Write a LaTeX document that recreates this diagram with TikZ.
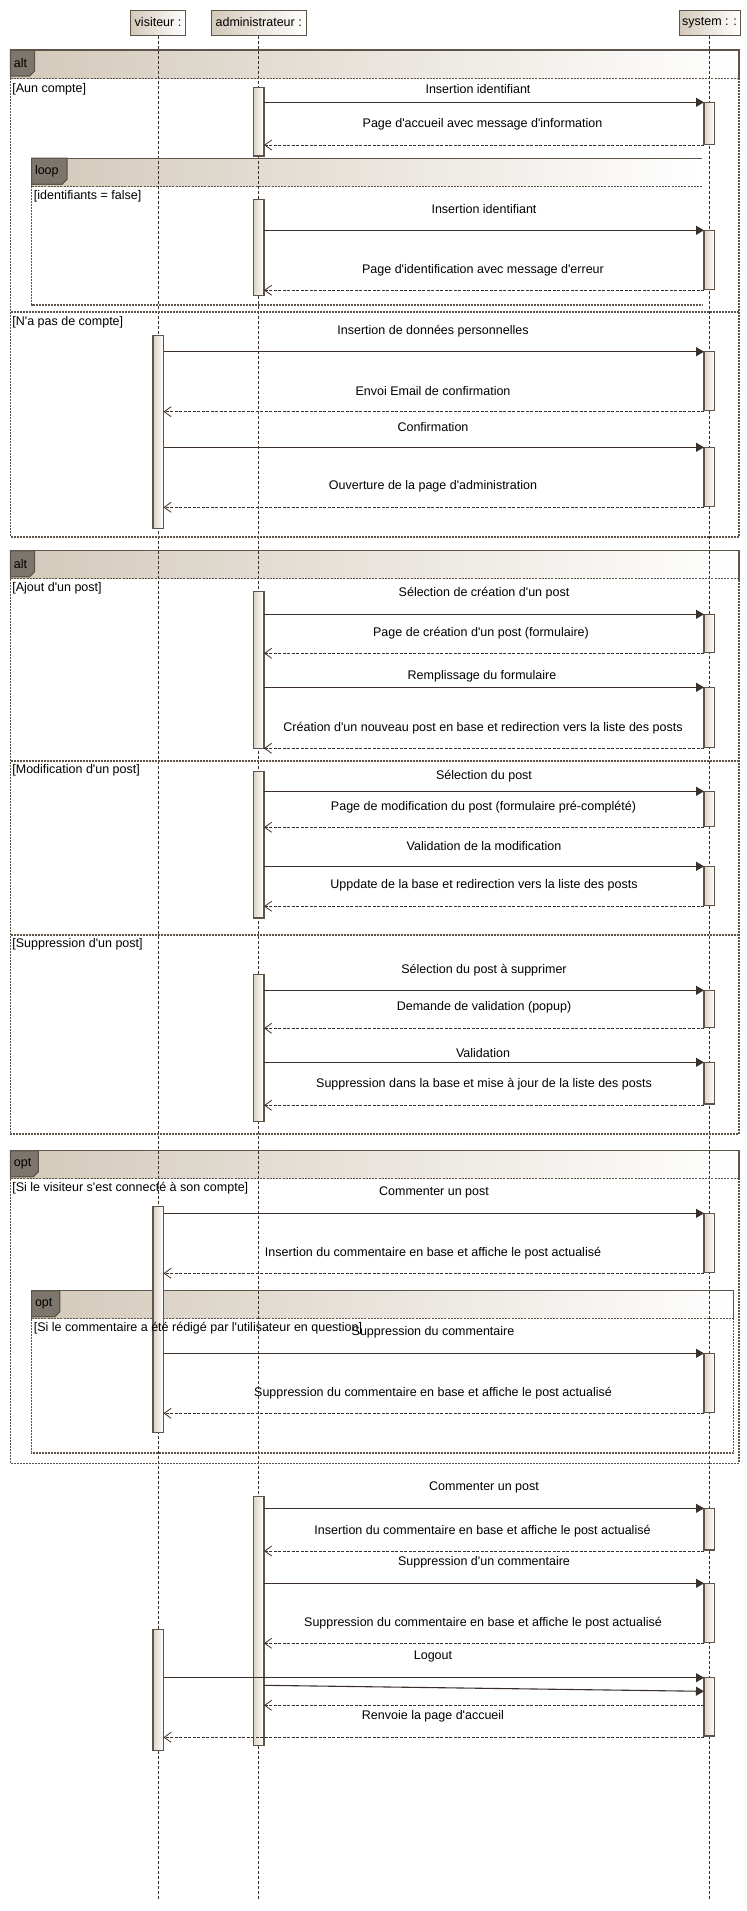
\documentclass[tikz,border=0pt]{standalone}
\usepackage{fontspec}
\setmainfont{Liberation Sans}[Ligatures=TeXOff]
\usetikzlibrary{arrows.meta}

\definecolor{umlborder}{HTML}{5E544A}
\definecolor{umlarrow}{HTML}{3B3029}
\definecolor{umltag}{HTML}{7D766C}
\definecolor{umltan}{HTML}{D3C9BA}
\definecolor{umlbar}{HTML}{DCD3C6}

\newcommand{\umlfont}{\fontsize{6.25}{7}\selectfont}

% message: name, style, x from, x to, y, label x, label y, label
\newcommand{\umlmsg}[8]{%
  \coordinate (#1-s) at (#3,#5);
  \coordinate (#1-e) at (#4,#5);
  \draw[#2] (#1-s) -- (#1-e);
  \node[msglabel] (#1-l) at (#6,#7) {#8};}

% frame head: name, x1, y1, x2, tag width, tag
\newcommand{\frameband}[6]{%
  \fill[left color=umltan, right color=white] (#2,#3) rectangle (#4,#3+28);
  \filldraw[tagbox] (#2,#3) -- (#2+#5,#3) -- (#2+#5,#3+21) -- (#2+#5-5,#3+26) -- (#2,#3+26) -- cycle;
  \node[anchor=west, inner sep=0] (#1) at (#2+3,#3+13) {#6};}

% frame border: x1, y1, x2, y2
\newcommand{\frameedges}[4]{%
  \draw[framesolid] (#1,#2+28) -- (#1,#2) -- (#3,#2) -- (#3,#2+28);
  \draw[framedash] (#1,#2+28) -- (#1,#4) -- (#3,#4) -- (#3,#2+28);
  \draw[bandline] (#1,#2+28) -- (#3,#2+28);}

\begin{document}
\begin{tikzpicture}[x=0.5pt, y=-0.5pt, font=\umlfont,
    actor/.style={draw=umlborder, line width=0.5pt, left color=umltan, right color=white, minimum height=12.5pt, inner sep=1pt},
    lifeline/.style={draw=umlarrow, line width=0.4pt, dash pattern=on 1.5pt off 1pt},
    actbar/.style={draw=umlborder, line width=0.6pt, left color=umlbar, right color=white},
    call/.style={draw=umlarrow, line width=0.55pt, -{Triangle[length=4pt, width=4.5pt]}},
    reply/.style={draw=umlarrow, line width=0.5pt, dash pattern=on 1.5pt off 0.75pt, -{Straight Barb[length=3.5pt, width=5pt, line width=0.4pt]}},
    msglabel/.style={inner sep=0},
    guard/.style={anchor=west, inner sep=0},
    tagbox/.style={fill=umltag, draw=umlborder, line width=0.6pt},
    framesolid/.style={draw=umlborder, line width=0.6pt},
    framedash/.style={draw=umlborder, line width=0.8pt, dash pattern=on 1pt off 0.5pt},
    bandline/.style={draw=umlborder, line width=0.4pt, dash pattern=on 1pt off 0.6pt}]
  \useasboundingbox (0,0) rectangle (746,1911);

  % frame heads
  \frameband{alt1}{10.5}{50}{739}{24}{alt}
  \frameband{loop1}{31.6}{158.3}{702}{35.4}{loop}
  \frameband{alt2}{10.5}{550.7}{739}{24}{alt}
  \frameband{opt1}{10.5}{1150.7}{739}{27.8}{opt}
  \frameband{opt2}{31.6}{1290.7}{733.6}{28.2}{opt}

  % lifelines
  \node[actor, minimum width=27.5pt] (vis) at (158,22.5) {visiteur :};
  \node[actor, minimum width=47.5pt] (adm) at (258.7,22.5) {administrateur :};
  \node[actor, minimum width=30.5pt] (sys) at (709.5,22.5) {system : :};
  \coordinate (visEnd) at (158,1900);
  \coordinate (admEnd) at (258.7,1900);
  \coordinate (sysEnd) at (709.2,1900);
  \draw[lifeline] (vis.south) -- (visEnd);
  \draw[lifeline] (adm.south) -- (admEnd);
  \draw[lifeline] (sys.south -| sysEnd) -- (sysEnd);

  % frame borders
  \frameedges{10.5}{50}{739}{536.7}
  \draw[framedash] (10.5,312) -- (739,312);
  \draw[framesolid] (702,158.3) -- (31.6,158.3) -- (31.6,186.3);
  \draw[framedash] (31.6,186.3) -- (31.6,305) -- (702,305);
  \draw[bandline] (31.6,186.3) -- (702,186.3);
  \frameedges{10.5}{550.7}{739}{1134}
  \draw[framedash] (10.5,760.7) -- (739,760.7);
  \draw[framedash] (10.5,934.7) -- (739,934.7);
  \frameedges{10.5}{1150.7}{739}{1463.3}
  \frameedges{31.6}{1290.7}{733.6}{1452.7}

  % activation bars
  \foreach \ya/\yb in {87.3/156, 199.3/295.7, 591.3/748.3, 771.3/918, 974.3/1121.3, 1496.7/1745.3}
    \draw[actbar] (253.5,\ya) rectangle (264,\yb);
  \foreach \ya/\yb in {335.3/528.7, 1206.7/1432.3, 1629.3/1750.7}
    \draw[actbar] (153,\ya) rectangle (163.5,\yb);
  \foreach \ya/\yb in {102.3/144.3, 230.3/289.3, 351.7/410.3, 447.3/506.7, 614.3/652.7, 687.3/747.3,
      791.3/826.7, 866.3/905.7, 990.3/1027.3, 1062.3/1104, 1213.3/1272.3, 1353.3/1412.3,
      1508.3/1550, 1583.3/1642.3, 1677.7/1736}
    \draw[actbar] (704,\ya) rectangle (714.5,\yb);

  % guards
  \node[guard] (g1) at (12,89) {[Aun compte]};
  \node[guard] (g2) at (33.5,196) {[identifiants = false]};
  \node[guard] (g3) at (12,322.3) {[N'a pas de compte]};
  \node[guard] (g4) at (12,588.3) {[Ajout d'un post]};
  \node[guard] (g5) at (12,770.7) {[Modification d'un post]};
  \node[guard] (g6) at (12,944.7) {[Suppression d'un post]};
  \node[guard] (g7) at (12,1187.7) {[Si le visiteur s'est connecté à son compte]};
  \node[guard] (g8) at (33.5,1328) {[Si le commentaire a été rédigé par l'utilisateur en question]};

  % messages
  \umlmsg{m1}{call}{264}{704}{102.3}{478}{89.3}{Insertion identifiant}
  \umlmsg{m2}{reply}{704}{264}{145}{482.5}{124.3}{Page d'accueil avec message d'information}
  \umlmsg{m3}{call}{264}{704}{230.3}{484}{209.3}{Insertion identifiant}
  \umlmsg{m4}{reply}{704}{264}{290.3}{483}{270}{Page d'identification avec message d'erreur}
  \umlmsg{m5}{call}{163.5}{704}{351.7}{433}{330.7}{Insertion de données personnelles}
  \umlmsg{m6}{reply}{704}{163.5}{411.7}{433}{390.7}{Envoi Email de confirmation}
  \umlmsg{m7}{call}{163.5}{704}{447.3}{433}{426.7}{Confirmation}
  \umlmsg{m8}{reply}{704}{163.5}{507.3}{433}{486}{Ouverture de la page d'administration}

  \umlmsg{m9}{call}{264}{704}{614.3}{484}{593.3}{Sélection de création d'un post}
  \umlmsg{m10}{reply}{704}{264}{653.3}{481}{633.3}{Page de création d'un post (formulaire)}
  \umlmsg{m11}{call}{264}{704}{687.3}{482}{676.7}{Remplissage du formulaire}
  \umlmsg{m12}{reply}{704}{264}{748.3}{483}{727.7}{Création d'un nouveau post en base et redirection vers la liste des posts}
  \umlmsg{m13}{call}{264}{704}{791.3}{484}{775.7}{Sélection du post}
  \umlmsg{m14}{reply}{704}{264}{827.3}{483.5}{806.7}{Page de modification du post (formulaire pré-complété)}
  \umlmsg{m15}{call}{264}{704}{866.3}{484}{845.7}{Validation de la modification}
  \umlmsg{m16}{reply}{704}{264}{906.3}{484}{885.7}{Uppdate de la base et redirection vers la liste des posts}
  \umlmsg{m17}{call}{264}{704}{990.3}{484}{969.7}{Sélection du post à supprimer}
  \umlmsg{m18}{reply}{704}{264}{1028.3}{484}{1007.7}{Demande de validation (popup)}
  \umlmsg{m19}{call}{264}{704}{1062.3}{483}{1052.7}{Validation}
  \umlmsg{m20}{reply}{704}{264}{1105.3}{484}{1084.3}{Suppression dans la base et mise à jour de la liste des posts}

  \umlmsg{m21}{call}{163.5}{704}{1213.3}{434}{1192.7}{Commenter un post}
  \umlmsg{m22}{reply}{704}{163.5}{1273.3}{433}{1252.7}{Insertion du commentaire en base et affiche le post actualisé}
  \umlmsg{m23}{call}{163.5}{704}{1353.3}{433}{1332.7}{Suppression du commentaire}
  \umlmsg{m24}{reply}{704}{163.5}{1413.3}{433}{1392.7}{Suppression du commentaire en base et affiche le post actualisé}

  \umlmsg{m25}{call}{264}{704}{1508.3}{484}{1487.7}{Commenter un post}
  \umlmsg{m26}{reply}{704}{264}{1551}{482.5}{1530.7}{Insertion du commentaire en base et affiche le post actualisé}
  \umlmsg{m27}{call}{264}{704}{1583.3}{484}{1562.7}{Suppression d'un commentaire}
  \umlmsg{m28}{reply}{704}{264}{1643.3}{483}{1622.7}{Suppression du commentaire en base et affiche le post actualisé}
  \umlmsg{m29}{call}{163.5}{704}{1677.7}{433}{1656.7}{Logout}
  \coordinate (m30-s) at (264,1685.3);
  \coordinate (m30-e) at (704,1691.3);
  \draw[call] (m30-s) -- (m30-e);
  \coordinate (m31-s) at (704,1705.3);
  \coordinate (m31-e) at (264,1705.3);
  \draw[reply] (m31-s) -- (m31-e);
  \umlmsg{m32}{reply}{704}{163.5}{1737.3}{433}{1716.7}{Renvoie la page d'accueil}
\end{tikzpicture}
\end{document}
